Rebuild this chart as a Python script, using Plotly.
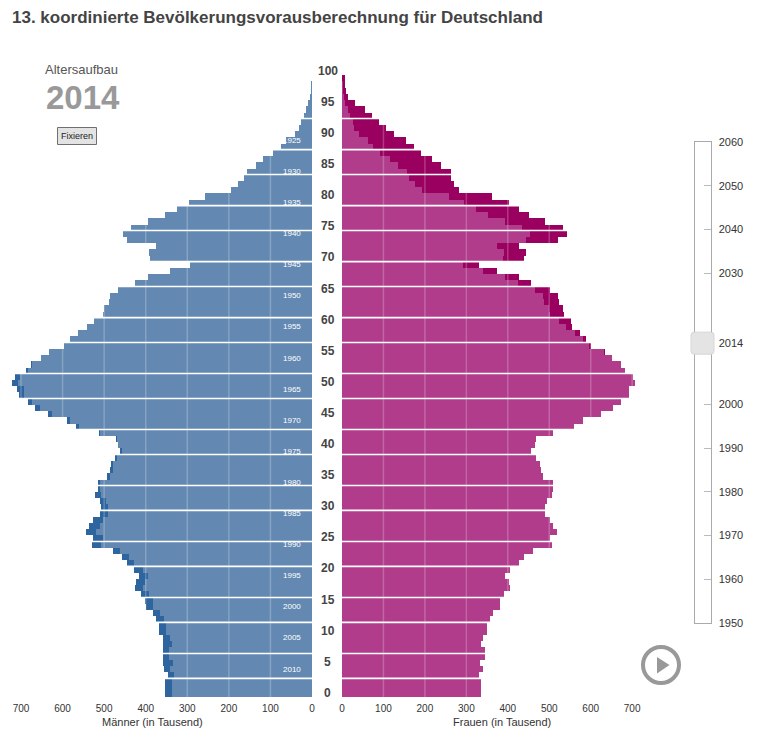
import numpy as np
import plotly.graph_objects as go

# ---------- data ----------
selected_year = 2014
ages = list(range(100))
# resident population by age (thousands), age 0 first
men = [353, 353, 353, 346, 355, 358, 358, 358, 358, 358,
       367, 367, 374, 382, 399, 401, 411, 425, 423, 415,
       427, 444, 456, 478, 528, 526, 543, 536, 526, 509,
       507, 509, 521, 513, 513, 492, 485, 483, 473, 461,
       466, 471, 512, 567, 589, 634, 666, 682, 704, 709,
       721, 714, 687, 675, 651, 631, 596, 581, 561, 540,
       523, 501, 499, 487, 485, 466, 425, 394, 341, 293,
       389, 391, 375, 444, 454, 435, 394, 353, 324, 295,
       257, 194, 176, 162, 156, 134, 116, 92, 74, 62,
       40, 30, 26, 19, 14, 8, 3, 1, 1, 0]
women = [336, 336, 336, 331, 341, 334, 344, 344, 336, 341,
         351, 351, 356, 365, 382, 382, 392, 406, 402, 394,
         406, 428, 440, 460, 506, 503, 518, 508, 503, 489,
         489, 494, 506, 508, 508, 486, 479, 477, 469, 455,
         465, 469, 508, 559, 581, 624, 653, 673, 692, 692,
         706, 702, 682, 673, 651, 634, 600, 588, 573, 556,
         552, 535, 532, 523, 520, 501, 455, 428, 375, 331,
         438, 443, 428, 520, 544, 532, 489, 450, 428, 404,
         363, 283, 271, 264, 264, 240, 218, 191, 174, 155,
         126, 106, 90, 73, 56, 31, 15, 10, 7, 7]
axis_ticks = [0, 100, 200, 300, 400, 500, 600, 700]
age_labels = list(range(0, 101, 5))
cohort_labels = list(range(1925, 2011, 5))
separator_ages = [3, 7, 12, 16, 21, 25, 30, 34, 39, 43, 48, 52, 57, 61, 66, 70, 75, 79, 84, 88, 93]
slider_years = [1950, 1960, 1970, 1980, 1990, 2000, 2014, 2030, 2040, 2050, 2060]

TITLE = "13. koordinierte Bevölkerungsvorausberechnung für Deutschland"
FONT = "Liberation Sans, Arial, sans-serif"
W, H = 767, 729
BLUE_L, BLUE_D = "#6389B2", "#2F659E"
PINK_L, PINK_D = "#B03C8B", "#9A0060"
AXIS_MAX = 740


def fx(px):
    return px / W


def fy(py):
    return 1 - py / H


common = np.minimum(men, women)

fig = go.Figure()
fig.add_trace(go.Bar(y=ages, x=men, orientation="h", marker=dict(color=BLUE_D, line_width=0),
                     width=1, xaxis="x", yaxis="y", hoverinfo="skip"))
fig.add_trace(go.Bar(y=ages, x=common, orientation="h", marker=dict(color=BLUE_L, line_width=0),
                     width=1, xaxis="x", yaxis="y", hoverinfo="skip"))
fig.add_trace(go.Bar(y=ages, x=women, orientation="h", marker=dict(color=PINK_D, line_width=0),
                     width=1, xaxis="x2", yaxis="y2", hoverinfo="skip"))
fig.add_trace(go.Bar(y=ages, x=common, orientation="h", marker=dict(color=PINK_L, line_width=0),
                     width=1, xaxis="x2", yaxis="y2", hoverinfo="skip"))
fig.add_trace(go.Scatter(x=[0], y=[selected_year], mode="markers", marker=dict(opacity=0),
                         xaxis="x3", yaxis="y3", hoverinfo="skip"))

shapes = []
for xr in ("x", "x2"):
    for t in axis_ticks[1:]:
        shapes.append(dict(type="line", xref=xr, yref="y", x0=t, x1=t, y0=-0.5, y1=99.5,
                           line=dict(color="rgba(255,255,255,0.22)", width=1.5)))
    for a in separator_ages:
        shapes.append(dict(type="line", xref=xr, yref="y", x0=0, x1=AXIS_MAX, y0=a - 0.5, y1=a - 0.5,
                           line=dict(color="white", width=1.6)))

# slider handle
shapes.append(dict(type="path", xref="paper", yref="y3", xsizemode="pixel", ysizemode="pixel",
                   xanchor=fx(702.5), yanchor=selected_year,
                   path="M -8.5,-11 L 8.5,-11 Q 11.5,-11 11.5,-8 L 11.5,8 Q 11.5,11 8.5,11 "
                        "L -8.5,11 Q -11.5,11 -11.5,8 L -11.5,-8 Q -11.5,-11 -8.5,-11 Z",
                   fillcolor="#E4E4E4", line=dict(color="#D6D6D6", width=1)))
# "Fixieren" button
shapes.append(dict(type="rect", xref="paper", yref="paper", x0=fx(57.5), x1=fx(96.5), y0=fy(144.5), y1=fy(127.5),
                   fillcolor="#E3E3E3", line=dict(color="#707070", width=1)))
# play button
shapes.append(dict(type="circle", xref="paper", yref="paper", x0=fx(643), x1=fx(679), y0=fy(683), y1=fy(647),
                   fillcolor="white", line=dict(color="#999999", width=4)))
shapes.append(dict(type="path", xref="paper", yref="paper",
                   path=f"M {fx(657)},{fy(657)} L {fx(669.5)},{fy(665)} L {fx(657)},{fy(673.5)} Z",
                   fillcolor="#999999", line=dict(width=0)))

anns = []
for a in age_labels:
    anns.append(dict(x=fx(327.5), xref="paper", y=a, yref="y2", text=str(a), showarrow=False, yshift=1,
                     xanchor="center", yanchor="middle",
                     font=dict(size=12, color="#444444", family=FONT, weight="bold")))
for c in cohort_labels:
    anns.append(dict(x=22, xref="x", y=selected_year - c, yref="y", text=str(c), showarrow=False,
                     xanchor="right", yanchor="middle", font=dict(size=8, color="white", family=FONT)))
anns.append(dict(x=fx(43), y=fy(70), xref="paper", yref="paper", text="Altersaufbau", showarrow=False,
                 xanchor="left", yanchor="middle", font=dict(size=13, color="#555555", family=FONT)))
anns.append(dict(x=fx(44), y=fy(97), xref="paper", yref="paper", text=str(selected_year), showarrow=False,
                 xanchor="left", yanchor="middle", font=dict(size=33, color="#999999", family=FONT, weight="bold")))
anns.append(dict(x=fx(77), y=fy(136), xref="paper", yref="paper", text="Fixieren", showarrow=False,
                 xanchor="center", yanchor="middle", font=dict(size=9, color="#222222", family=FONT)))
title_font = dict(size=11, color="#333333", family=FONT)
anns.append(dict(x=fx(152), y=fy(721.5), xref="paper", yref="paper", text="Männer (in Tausend)", showarrow=False,
                 xanchor="center", yanchor="middle", font=title_font))
anns.append(dict(x=fx(502), y=fy(721.5), xref="paper", yref="paper", text="Frauen (in Tausend)", showarrow=False,
                 xanchor="center", yanchor="middle", font=title_font))

hidden_y = dict(range=[-0.5, 100.5], showgrid=False, zeroline=False, showticklabels=False, ticks="",
                showline=False, automargin=False)
tick_font = dict(size=10, color="#333333", family=FONT)

fig.update_layout(
    template="none",
    width=W, height=H, margin=dict(l=0, r=0, t=0, b=0), autosize=False,
    paper_bgcolor="white", plot_bgcolor="white", showlegend=False,
    barmode="overlay", bargap=0,
    font=dict(family=FONT),
    title=dict(text=TITLE, x=fx(12), xanchor="left", xref="paper", y=fy(17), yanchor="middle",
               font=dict(size=17, color="#444444", family=FONT, weight="bold")),
    xaxis=dict(domain=[fx(312 - AXIS_MAX * 0.4157), fx(312)], range=[AXIS_MAX, 0], anchor="y", tickvals=axis_ticks,
               showgrid=False, zeroline=False, ticks="outside", ticklen=2, tickcolor="white", tickfont=tick_font,
               automargin=False),
    xaxis2=dict(domain=[fx(342), fx(342 + AXIS_MAX * 0.4145)], range=[0, AXIS_MAX], anchor="y2", tickvals=axis_ticks,
                showgrid=False, zeroline=False, ticks="outside", ticklen=2, tickcolor="white", tickfont=tick_font,
                automargin=False),
    xaxis3=dict(domain=[fx(694.5), fx(710.5)], range=[0, 1], anchor="y3", showgrid=False, zeroline=False,
                showticklabels=False, ticks="", showline=True, linecolor="#AAAAAA", mirror=True, automargin=False),
    yaxis=dict(domain=[fy(697), fy(68.8)], anchor="x", **hidden_y),
    yaxis2=dict(domain=[fy(697), fy(68.8)], anchor="x2", **hidden_y),
    yaxis3=dict(domain=[fy(623), fy(142)], range=[1950, 2060], anchor="x3", side="right",
                tickvals=slider_years, showgrid=False, zeroline=False, ticks="inside", ticklen=7,
                tickcolor="#BBBBBB", showline=True, linecolor="#AAAAAA", mirror=True, automargin=False,
                ticklabelstandoff=5, tickfont=dict(size=11, color="#333333", family=FONT)),
    shapes=shapes, annotations=anns,
)

fig.write_html("out.html", config=dict(displayModeBar=False),
               post_script="document.body.style.margin='0';")
